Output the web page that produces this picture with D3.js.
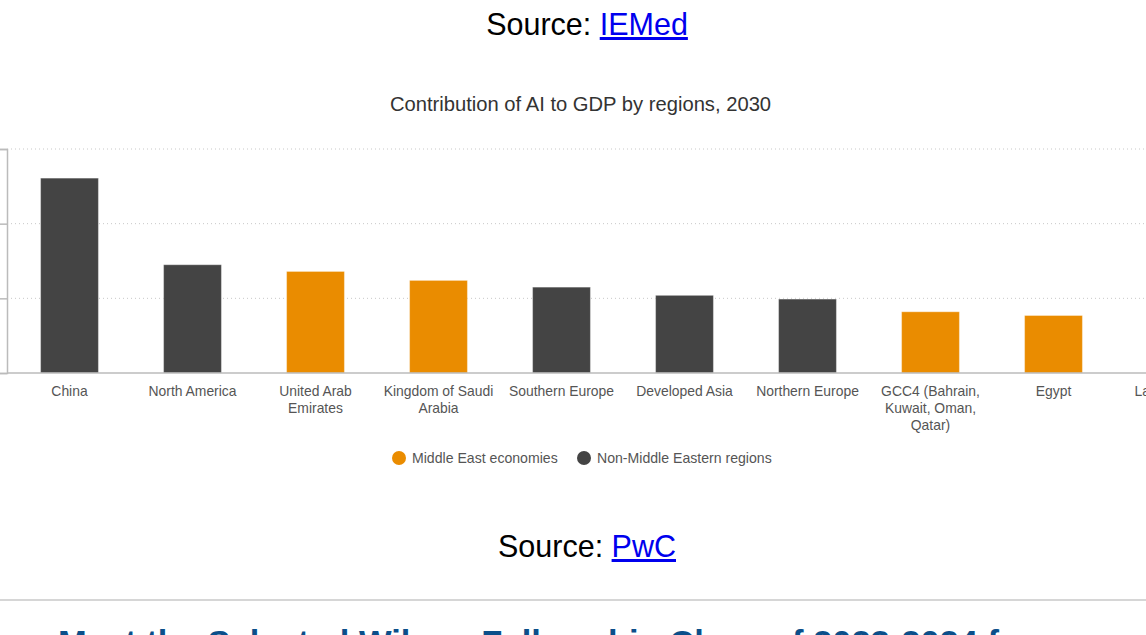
<!DOCTYPE html>
<html>
<head>
<meta charset="utf-8">
<script src="https://cdn.jsdelivr.net/npm/d3@7"></script>
<style>
  html, body { margin: 0; padding: 0; background: #fff; overflow: hidden; }
  body { width: 1146px; height: 635px; position: relative; font-family: "Liberation Sans", Arial, sans-serif; }
  .source { position: absolute; left: 0; width: 1174px; text-align: center; font-size: 30.5px; color: #000; }
  .source a { color: #0000ee; text-decoration: underline; }
  #chart { position: absolute; left: 0; top: 0; }
  .rule { position: absolute; left: 0; top: 599px; width: 1146px; height: 2px; background: #d6d6d6; }
  .heading { position: absolute; left: 58px; top: 624px; white-space: nowrap; font-size: 34.5px; font-weight: bold; color: #0b4f8a; }
</style>
</head>
<body>
<div class="source" style="top:7px">Source: <a href="#">IEMed</a></div>
<div id="chart"></div>
<div class="source" style="top:529px">Source: <a href="#">PwC</a></div>
<div class="rule"></div>
<div class="heading">Meet the Selected Wilson Fellowship Class of 2023-2024 for</div>
<script>
// Data (percent of GDP, 2030)
const categories = ["China", "North America", "United Arab Emirates", "Kingdom of Saudi Arabia",
  "Southern Europe", "Developed Asia", "Northern Europe", "GCC4 (Bahrain, Kuwait, Oman, Qatar)",
  "Egypt", "Latin America"];
const values = [26.1, 14.5, 13.6, 12.4, 11.5, 10.4, 9.9, 8.2, 7.7, 5.4];
const groups = ["non", "non", "me", "me", "non", "non", "non", "me", "me", "non"];
const yTicks = [0, 10, 20, 30];
const legendLabels = ["Middle East economies", "Non-Middle Eastern regions"];

const color = { me: "#ea8c00", non: "#444444" };

const data = categories.map((c, i) => ({ name: c, value: values[i], group: groups[i] }));

const svg = d3.select("#chart")
  .append("svg")
  .attr("width", 1146)
  .attr("height", 520);

// Chart title
svg.append("text")
  .attr("x", 580.5)
  .attr("y", 111)
  .attr("text-anchor", "middle")
  .style("font-family", "'Liberation Sans', Arial, sans-serif")
  .style("font-size", "20.2px")
  .style("fill", "#333")
  .text("Contribution of AI to GDP by regions, 2030");

const plotLeft = 7, plotTop = 149, plotHeight = 224;
const step = 123;

const g = svg.append("g")
  .attr("transform", `translate(${plotLeft},${plotTop})`);

const x = d3.scaleBand()
  .domain(categories)
  .range([1, 1 + step * categories.length])
  .paddingInner(0.53)
  .paddingOuter(0.265);

const y = d3.scaleLinear()
  .domain([0, 30])
  .range([plotHeight, 0]);

// dotted gridlines
g.selectAll(".grid")
  .data(yTicks.slice(1))
  .join("line")
  .attr("x1", 0)
  .attr("x2", 1146)
  .attr("y1", d => y(d))
  .attr("y2", d => y(d))
  .attr("stroke", "#c8c8c8")
  .attr("stroke-width", 1)
  .attr("stroke-dasharray", "1,3");

// y axis (its labels sit left of the visible page in the source, so none are drawn)
g.append("g")
  .call(d3.axisLeft(y).tickValues(yTicks).tickSize(7).tickFormat(""))
  .call(a => a.select(".domain").attr("stroke", "#bbb").attr("stroke-width", 1.5))
  .call(a => a.selectAll(".tick line").attr("stroke", "#bbb").attr("stroke-width", 1.5));

// bars
g.selectAll(".bar")
  .data(data)
  .join("rect")
  .attr("x", d => x(d.name))
  .attr("y", d => y(d.value))
  .attr("width", x.bandwidth())
  .attr("height", d => y(0) - y(d.value))
  .attr("fill", d => color[d.group])
  .attr("stroke", "rgba(255,255,255,0.35)")
  .attr("stroke-width", 1);

// x axis
const xAxis = g.append("g")
  .attr("transform", `translate(0,${plotHeight})`)
  .call(d3.axisBottom(x).tickSize(0).tickPadding(13));

xAxis.select(".domain").remove();
g.append("line")
  .attr("x1", 0).attr("x2", 1146)
  .attr("y1", plotHeight).attr("y2", plotHeight)
  .attr("stroke", "#bbb")
  .attr("stroke-width", 1.5);

xAxis.selectAll(".tick text")
  .style("font-family", "'Liberation Sans', Arial, sans-serif")
  .style("font-size", "13.9px")
  .style("fill", "#555")
  .call(wrap, 114);

function wrap(texts, width) {
  texts.each(function () {
    const text = d3.select(this);
    const words = text.text().split(/\s+/);
    const yy = text.attr("y");
    const dy = parseFloat(text.attr("dy")) || 0;
    text.text(null);
    let line = [];
    let lineNo = 0;
    let tspan = text.append("tspan").attr("x", 0).attr("y", yy).attr("dy", dy + "em");
    words.forEach(w => {
      line.push(w);
      tspan.text(line.join(" "));
      if (tspan.node().getComputedTextLength() > width && line.length > 1) {
        line.pop();
        tspan.text(line.join(" "));
        line = [w];
        lineNo++;
        tspan = text.append("tspan").attr("x", 0).attr("y", yy)
          .attr("dy", (dy + lineNo * 1.22) + "em").text(w);
      }
    });
  });
}

// legend
const legend = svg.append("g").attr("transform", "translate(399,458)");
const legendX = [0, 185];
legendLabels.forEach((label, i) => {
  const item = legend.append("g").attr("transform", `translate(${legendX[i]},0)`);
  item.append("circle")
    .attr("r", 7)
    .attr("fill", i === 0 ? color.me : color.non);
  item.append("text")
    .attr("x", 13)
    .attr("y", 5)
    .style("font-family", "'Liberation Sans', Arial, sans-serif")
    .style("font-size", "14.1px")
    .style("fill", "#555")
    .text(label);
});
</script>
</body>
</html>
